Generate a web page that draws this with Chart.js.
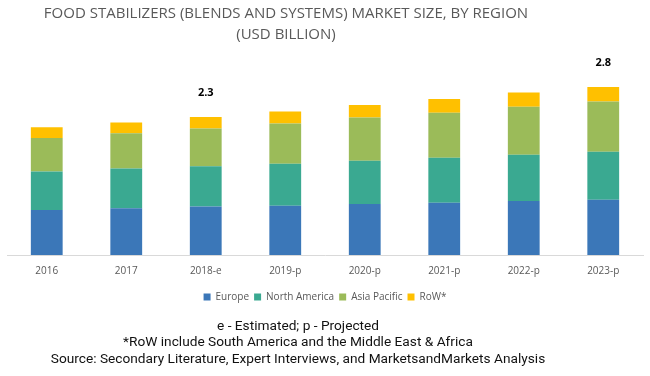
<!DOCTYPE html>
<html>
<head>
<meta charset="utf-8">
<script src="https://cdn.jsdelivr.net/npm/chart.js@4/dist/chart.umd.min.js"></script>
<style>
  html, body { margin: 0; padding: 0; background: #fff; }
  #wrap { width: 650px; height: 376px; position: relative; }
</style>
</head>
<body>
<div id="wrap"><canvas id="chart_marketByRegion"></canvas></div>
<script>
// values in USD billion
var years = ['2016', '2017', '2018-e', '2019-p', '2020-p', '2021-p', '2022-p', '2023-p'];
var europe = [0.75, 0.78, 0.81, 0.82, 0.85, 0.87, 0.90, 0.92];
var northAmerica = [0.64, 0.66, 0.67, 0.70, 0.72, 0.75, 0.77, 0.80];
var asiaPacific = [0.56, 0.59, 0.63, 0.67, 0.72, 0.75, 0.80, 0.84];
var row = [0.18, 0.18, 0.19, 0.20, 0.21, 0.23, 0.24, 0.24];
var totalLabels = ['', '', '2.3', '', '', '', '', '2.8'];
var titleLines = ['FOOD STABILIZERS (BLENDS AND SYSTEMS) MARKET SIZE, BY REGION', '(USD BILLION)'];
var footerLines = [
    'e - Estimated; p - Projected',
    '*RoW include South America and the Middle East & Africa',
    'Source: Secondary Literature, Expert Interviews, and MarketsandMarkets Analysis'
];

var chart_marketByRegion = new Chart(document.getElementById('chart_marketByRegion'), {
    type: 'bar',
    data: {
        labels: years,
        datasets: [
            { label: 'Europe', data: europe, backgroundColor: '#3B77B8' },
            { label: 'North America', data: northAmerica, backgroundColor: '#3AA991' },
            { label: 'Asia Pacific', data: asiaPacific, backgroundColor: '#9BBB59' },
            { label: 'RoW*', data: row, backgroundColor: '#FFC000' }
        ]
    },
    options: {
        animation: false,
        responsive: true,
        maintainAspectRatio: false,
        datasets: {
            bar: { categoryPercentage: 1, barPercentage: 0.4, borderWidth: 0 }
        },
        layout: {
            padding: { left: 7, right: 7, top: 51, bottom: 64 }
        },
        plugins: {
            legend: {
                position: 'bottom',
                labels: {
                    boxWidth: 7,
                    boxHeight: 7,
                    padding: 5,
                    color: '#595959',
                    font: { family: 'Open Sans', size: 10 }
                }
            },
            tooltip: { enabled: false }
        },
        scales: {
            x: {
                stacked: true,
                grid: { display: false, drawTicks: false },
                border: { display: true, color: '#D9D9D9', width: 1 },
                ticks: { color: '#595959', padding: 10, font: { family: 'Open Sans', size: 10 } }
            },
            y: {
                stacked: true,
                display: false,
                min: 0,
                max: 3.4
            }
        }
    },
    plugins: [{
        id: 'textsAndTotals',
        afterDatasetsDraw: function (chart) {
            var ctx = chart.ctx;
            var x = chart.scales.x, y = chart.scales.y;
            ctx.save();
            ctx.textAlign = 'center';
            ctx.textBaseline = 'middle';

            ctx.fillStyle = '#595959';
            ctx.font = '15px "Open Sans"';
            titleLines.forEach(function (t, k) {
                ctx.fillText(t, 286, 14 + k * 21);
            });

            ctx.fillStyle = '#000';
            ctx.font = 'bold 11px "Open Sans"';
            years.forEach(function (yr, i) {
                if (!totalLabels[i]) return;
                var total = europe[i] + northAmerica[i] + asiaPacific[i] + row[i];
                ctx.fillText(totalLabels[i], x.getPixelForValue(i), y.getPixelForValue(total) - 24);
            });

            ctx.font = '13.7px Roboto';
            ctx.fillStyle = '#111';
            footerLines.forEach(function (t, k) {
                ctx.fillText(t, 298, 326.5 + k * 16.5);
            });
            ctx.restore();
        }
    }, {
        id: 'whiteBg',
        beforeDraw: function (chart) {
            var ctx = chart.ctx;
            ctx.save();
            ctx.globalCompositeOperation = 'destination-over';
            ctx.fillStyle = 'white';
            ctx.fillRect(0, 0, chart.width, chart.height);
            ctx.restore();
        }
    }]
});
</script>
</body>
</html>
